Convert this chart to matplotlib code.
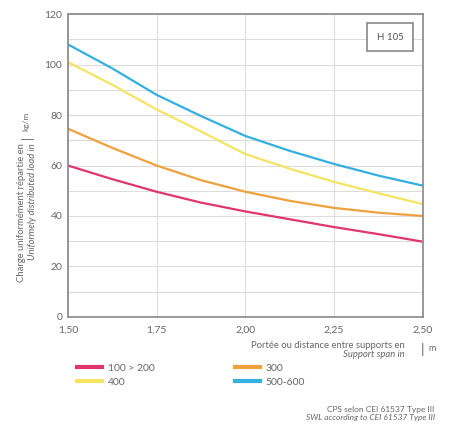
import matplotlib
matplotlib.use("Agg")
import matplotlib.pyplot as plt

# span in m, load in kg/m
span = [1.50, 1.625, 1.75, 1.875, 2.00, 2.125, 2.25, 2.375, 2.50]
load_100_200 = [60, 54.6, 49.6, 45.3, 41.8, 38.7, 35.6, 32.8, 29.8]
load_300 = [74.6, 67, 60, 54.2, 49.6, 46, 43.2, 41.3, 40]
load_400 = [101, 92, 82.2, 73.5, 64.5, 58.7, 53.5, 49, 44.7]
load_500_600 = [108, 98.5, 88, 79.6, 71.7, 65.8, 60.6, 56, 52]

series_names = ["100 > 200", "400", "300", "500-600"]
xticks = [1.50, 1.75, 2.00, 2.25, 2.50]
xtick_labels = ["1,50", "1,75", "2,00", "2,25", "2,50"]

plt.rcParams["font.family"] = ["Lato", "DejaVu Sans"]
txt = "#666666"

fig = plt.figure(figsize=(4.49, 4.26), dpi=100)
ax = fig.add_axes([0.151, 0.256, 0.791, 0.711])

l1, = ax.plot(span, load_100_200, color="#e0366b", lw=1.6)
l3, = ax.plot(span, load_300, color="#f0a03c", lw=1.6)
l4, = ax.plot(span, load_400, color="#f5e463", lw=1.6)
l5, = ax.plot(span, load_500_600, color="#33b0e0", lw=1.6)

ax.set_xlim(1.5, 2.5)
ax.set_ylim(0, 120)
ax.set_xticks(xticks)
ax.set_xticklabels(xtick_labels)
ax.set_yticks(range(0, 121, 20))
ax.set_yticks(range(0, 121, 10), minor=True)
ax.grid(True, which="both", color="#dddddd", lw=0.8)
ax.tick_params(which="both", length=0, labelsize=7.5, colors=txt, pad=4)
ax.tick_params(axis="x", pad=6)
for s in ax.spines.values():
    s.set_color("#888888")
    s.set_linewidth(1.2)

ax.text(0.907, 0.924, "H 105", transform=ax.transAxes, ha="center", va="center",
        fontsize=7, color="#555555",
        bbox=dict(boxstyle="square,pad=1.0", fc="white", ec="#888888", lw=1.2))

# y label
fig.text(0.048, 0.664, "Charge uniformément répartie en", rotation=90,
         ha="center", va="top", fontsize=6.8, color=txt)
fig.text(0.072, 0.664, "Uniformely distributed load in", rotation=90,
         ha="center", va="top", fontsize=6.8, color=txt, style="italic")
fig.text(0.061, 0.678, "|", rotation=90, ha="center", va="center",
         fontsize=9, color=txt)
fig.text(0.058, 0.716, "kg/m", rotation=90, ha="center", va="center",
         fontsize=6, color=txt)

# x label
fig.text(0.902, 0.19, "Portée ou distance entre supports en", ha="right",
         va="center", fontsize=6.8, color=txt)
fig.text(0.902, 0.169, "Support span in", ha="right", va="center",
         fontsize=6.8, color=txt, style="italic")
fig.text(0.94, 0.18, "|", ha="center", va="center", fontsize=10, color=txt)
fig.text(0.962, 0.181, "m", ha="center", va="center", fontsize=6.5, color=txt)

fig.legend([l1, l4, l3, l5], series_names, loc="upper left",
           bbox_to_anchor=(0.1715, 0.146), ncol=2, frameon=False,
           borderaxespad=0, borderpad=0,
           fontsize=7.5, handlelength=2.4, columnspacing=7.7,
           labelspacing=0.45, handletextpad=0.55, labelcolor=txt)
for h in fig.legends[0].legend_handles:
    h.set_linewidth(3)

fig.text(0.968, 0.038, "CPS selon CEI 61537 Type III", ha="right", va="center",
         fontsize=6, color=txt)
fig.text(0.968, 0.019, "SWL according to CEI 61537 Type III", ha="right",
         va="center", fontsize=6, color=txt, style="italic")

fig.savefig("out.png", dpi=100)
